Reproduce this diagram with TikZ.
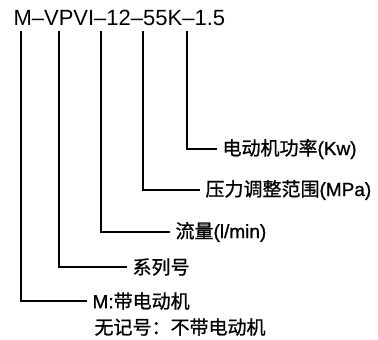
\documentclass[tikz,border=0pt]{standalone}
\usepackage{fontspec}
\setmainfont{Liberation Sans}
\newfontfamily\lat{Liberation Sans}[FakeBold=1]
\newfontfamily\cjk{Noto Sans CJK SC}[FakeBold=1]
\usetikzlibrary{positioning}

\begin{document}
\begin{tikzpicture}[x=1pt, y=-1pt, line width=1.1pt,
    lbl/.style={font=\fontsize{19}{24}\selectfont\lat, inner ysep=2pt, inner xsep=5pt, anchor=west}]

                  \useasboundingbox (0,0) rectangle (378,340);
                  \draw (13,26) node[anchor=base west, inner sep=0pt, font=\fontsize{22}{26}\selectfont] (code) {M–VPVI–12–55K–1.5};

                  % taps under the model code
                  \coordinate (tapM) at (21,31);
                  \coordinate (tapSer) at (59,31);
                  \coordinate (tapFlow) at (101,31);
                  \coordinate (tapPres) at (143,31);
                  \coordinate (tapKw) at (187,31);

                  \draw (217,149) node[lbl] (lblKw) {{\cjk 电动机功率}(Kw)};
                  \draw (200,190) node[lbl] (lblPres) {{\cjk 压力调整范围}(MPa)};
                  \draw (170,232) node[lbl] (lblFlow) {{\cjk 流量}(l/min)};
                  \draw (127,267) node[lbl] (lblSer) {\cjk 系列号};
                  \draw (87,301) node[lbl] (lblM) {M:{\cjk 带电动机}};
                  \node[lbl] (lblMb) at ([shift={(2,26)}]lblM.west) {\cjk 无记号：不带电动机};

                  \draw (tapKw) |- (lblKw.west);
                  \draw (tapPres) |- (lblPres.west);
                  \draw (tapFlow) |- (lblFlow.west);
                  \draw (tapSer) |- (lblSer.west);
                  \draw (tapM) |- (lblM.west);

                \end{tikzpicture}
\end{document}
